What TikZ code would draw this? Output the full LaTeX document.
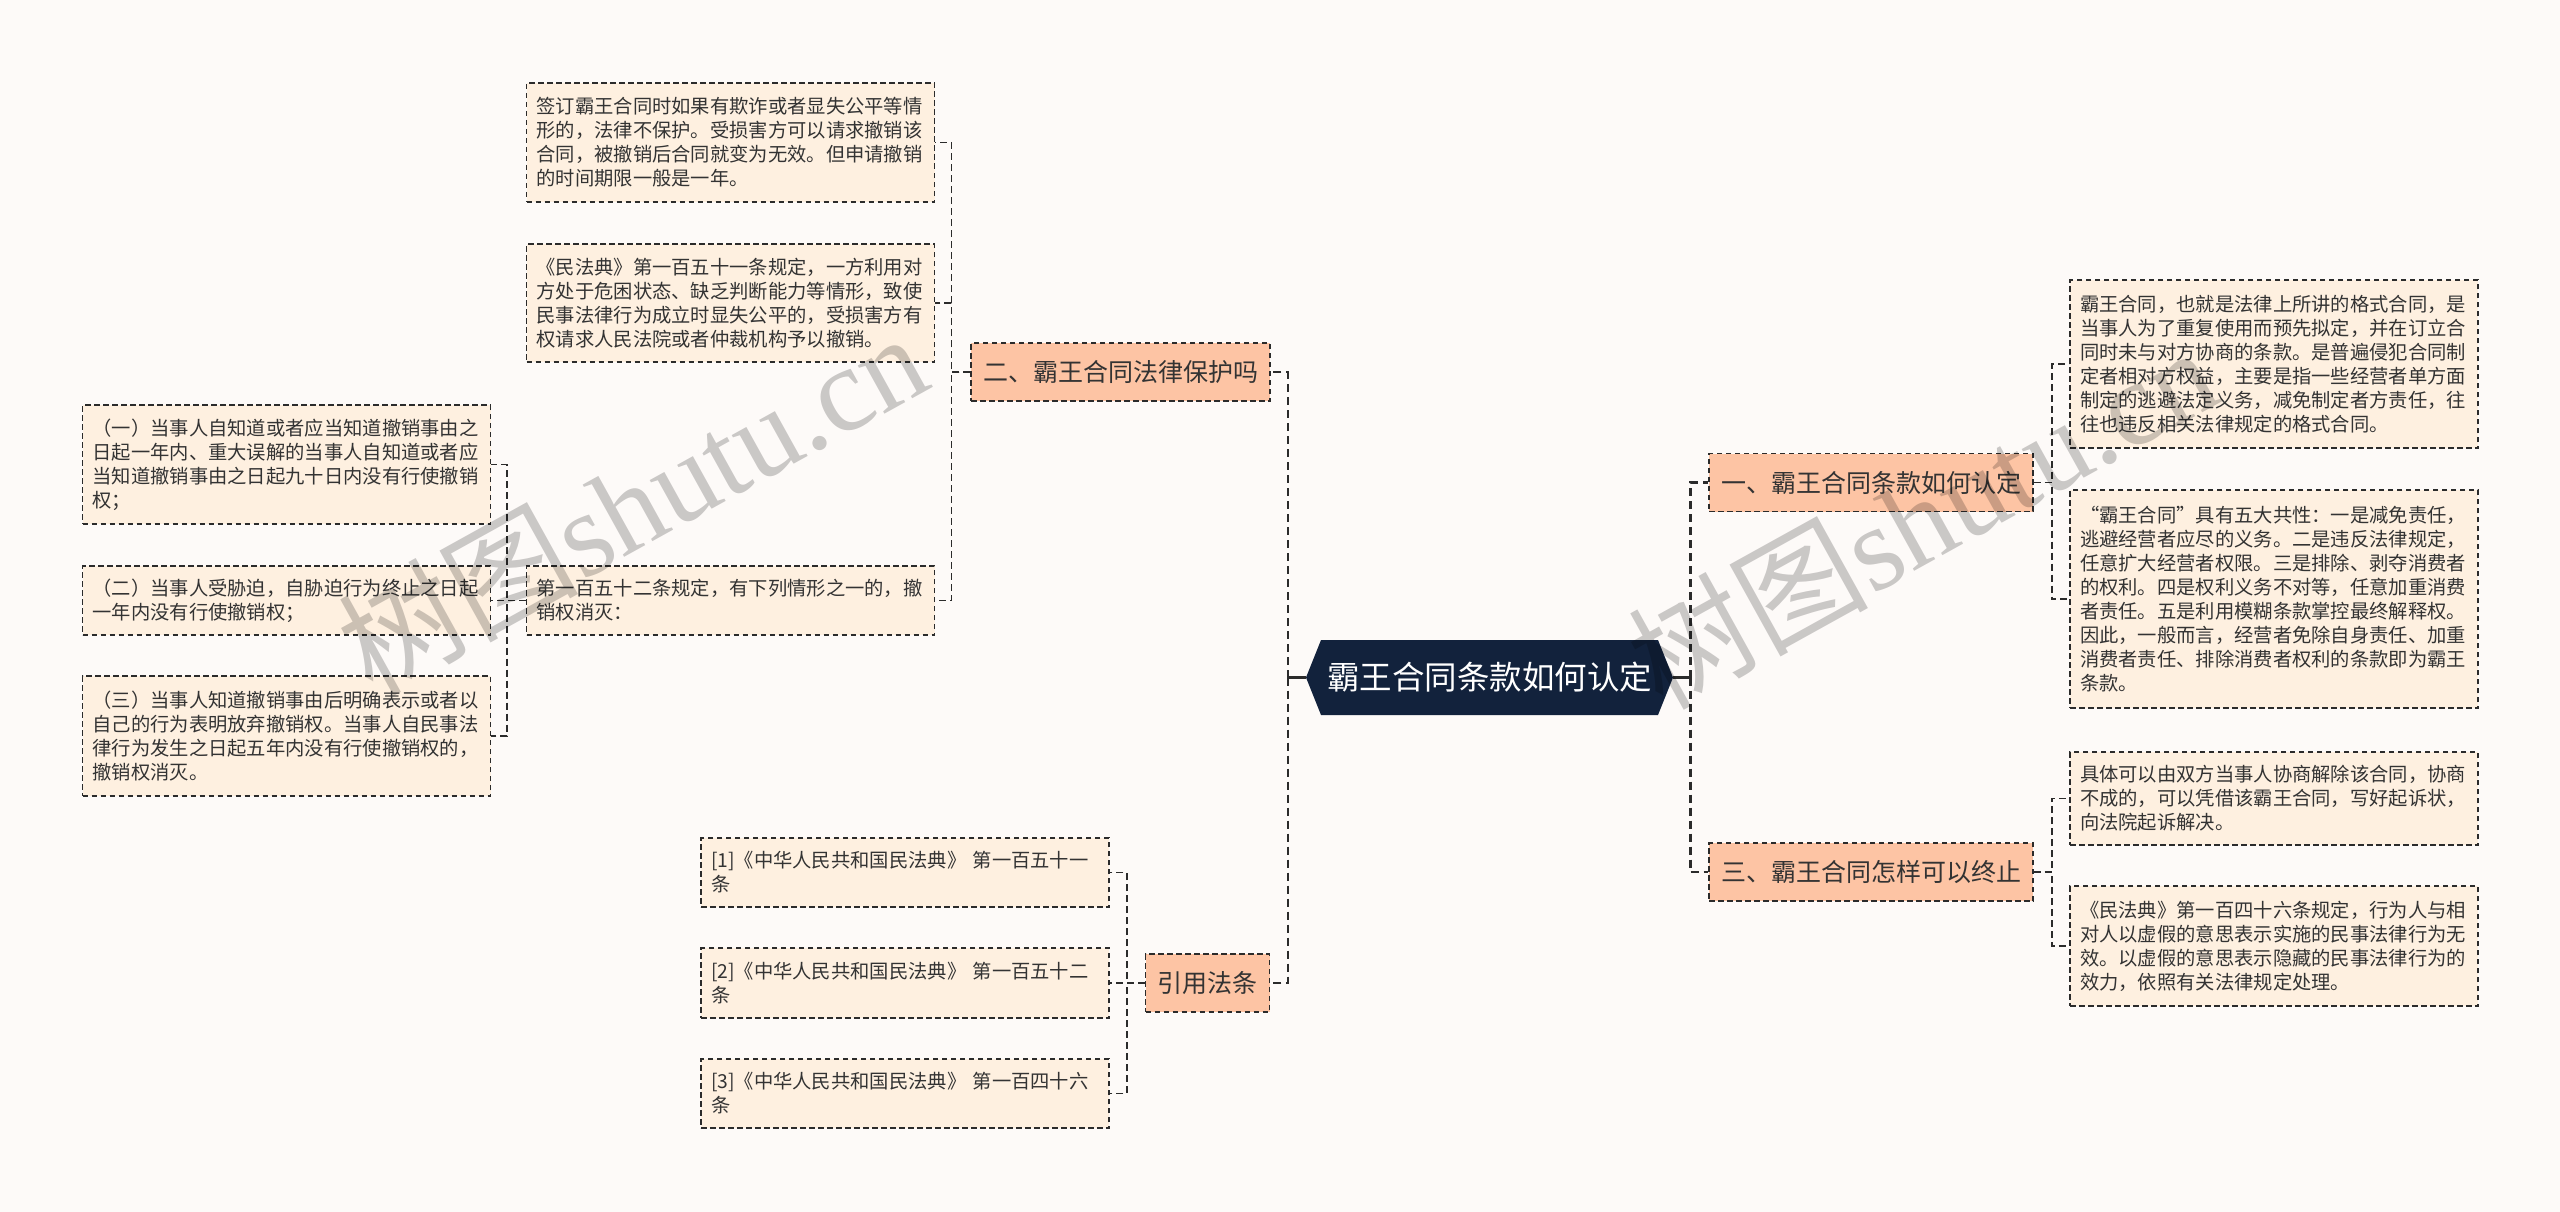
\documentclass[tikz,border=0pt]{standalone}
\usepackage{fontspec}
\setmainfont{Noto Sans CJK SC}
\newfontfamily\wmserif{Liberation Serif}
\usetikzlibrary{calc}
\definecolor{bg}{HTML}{FDFAF8}
\definecolor{navy}{HTML}{12223C}
\definecolor{peach}{HTML}{FDC4A4}
\definecolor{cream}{HTML}{FEF0E0}
\definecolor{ink}{HTML}{333333}
\definecolor{edge}{HTML}{2B2B2B}
\tikzset{
  leaf/.style={draw=edge, line width=1.5pt, dash pattern=on 5.5pt off 3.5pt, fill=cream, text=ink,
    font=\fontsize{19.3}{24}\selectfont, text width=388pt, align=left, inner xsep=10pt, inner ysep=0pt},
  branch/.style={draw=edge, line width=1.5pt, dash pattern=on 5.5pt off 3.5pt, fill=peach, text=ink,
    font=\fontsize{25}{30}\selectfont, inner xsep=12pt, inner ysep=0pt, minimum height=58pt},
  conn/.style={draw=edge, line width=1.5pt, dash pattern=on 7pt off 4pt},
  mainconn/.style={draw=edge, line width=2.6pt, dash pattern=on 8pt off 5pt},
  stub/.style={draw=edge, line width=2.6pt},
  wm/.style={text=black, text opacity=0.2, rotate=29, anchor=base west, inner sep=0pt,
    font=\fontsize{120}{120}\selectfont},
}
\begin{document}
\begin{tikzpicture}[x=1pt,y=-1pt]
\useasboundingbox (0,0) rectangle (2560,1212);
\fill[bg] (0,0) rectangle (2560,1212);

% central node
\fill[navy] (1306,677.5) -- (1321,640) -- (1658,640) -- (1673,677.5) -- (1658,715) -- (1321,715) -- cycle;
\node[text=white, font=\fontsize{32.5}{36}\selectfont, minimum width=367pt, minimum height=75pt, inner sep=0pt]
  (c) at (1489.5,677.5) {霸王合同条款如何认定};

% branches
\node[branch] (b1) at (1871,482.5) {一、霸王合同条款如何认定};
\node[branch] (b3) at (1871,872) {三、霸王合同怎样可以终止};
\node[branch] (b2) at (1120.5,372) {二、霸王合同法律保护吗};
\node[branch] (b4) at (1207.5,983) {引用法条};

% right leaves
\node[leaf, minimum height=168pt] (r1) at (2274,364) {霸王合同，也就是法律上所讲的格式合同，是\\当事人为了重复使用而预先拟定，并在订立合\\同时未与对方协商的条款。是普遍侵犯合同制\\定者相对方权益，主要是指一些经营者单方面\\制定的逃避法定义务，减免制定者方责任，往\\往也违反相关法律规定的格式合同。};
\node[leaf, minimum height=218pt] (r2) at (2274,599) {“霸王合同”具有五大共性：一是减免责任，\\逃避经营者应尽的义务。二是违反法律规定，\\任意扩大经营者权限。三是排除、剥夺消费者\\的权利。四是权利义务不对等，任意加重消费\\者责任。五是利用模糊条款掌控最终解释权。\\因此，一般而言，经营者免除自身责任、加重\\消费者责任、排除消费者权利的条款即为霸王\\条款。};
\node[leaf, minimum height=93pt] (r3) at (2274,798.5) {具体可以由双方当事人协商解除该合同，协商\\不成的，可以凭借该霸王合同，写好起诉状，\\向法院起诉解决。};
\node[leaf, minimum height=120pt] (r4) at (2274,946) {《民法典》第一百四十六条规定，行为人与相\\对人以虚假的意思表示实施的民事法律行为无\\效。以虚假的意思表示隐藏的民事法律行为的\\效力，依照有关法律规定处理。};

% left leaves of b2
\node[leaf, minimum height=119pt] (l1) at (730.5,142.5) {签订霸王合同时如果有欺诈或者显失公平等情\\形的，法律不保护。受损害方可以请求撤销该\\合同，被撤销后合同就变为无效。但申请撤销\\的时间期限一般是一年。};
\node[leaf, minimum height=118pt] (l2) at (730.5,303) {《民法典》第一百五十一条规定，一方利用对\\方处于危困状态、缺乏判断能力等情形，致使\\民事法律行为成立时显失公平的，受损害方有\\权请求人民法院或者仲裁机构予以撤销。};
\node[leaf, minimum height=69pt] (l3) at (730.5,600.5) {第一百五十二条规定，有下列情形之一的，撤\\销权消灭：};

% leaves of l3
\node[leaf, minimum height=119pt] (ll1) at (286.5,464.5) {（一）当事人自知道或者应当知道撤销事由之\\日起一年内、重大误解的当事人自知道或者应\\当知道撤销事由之日起九十日内没有行使撤销\\权；};
\node[leaf, minimum height=69pt] (ll2) at (286.5,600.5) {（二）当事人受胁迫，自胁迫行为终止之日起\\一年内没有行使撤销权；};
\node[leaf, minimum height=120pt] (ll3) at (286.5,736) {（三）当事人知道撤销事由后明确表示或者以\\自己的行为表明放弃撤销权。当事人自民事法\\律行为发生之日起五年内没有行使撤销权的，\\撤销权消灭。};

% citation leaves
\node[leaf, minimum height=69pt] (c1) at (905,872.5) {[1]《中华人民共和国民法典》 第一百五十一\\条};
\node[leaf, minimum height=70pt] (c2) at (905,983) {[2]《中华人民共和国民法典》 第一百五十二\\条};
\node[leaf, minimum height=69pt] (c3) at (905,1093.5) {[3]《中华人民共和国民法典》 第一百四十六\\条};

% central connectors
\draw[stub] (c.east) -- ++(17,0) coordinate (rb);
\draw[stub] (c.west) -- ++(-18,0) coordinate (lb);
\draw[mainconn] (rb) |- (b1.west);
\draw[mainconn] (rb) |- (b3.west);
\draw[mainconn] (lb) |- (b2.east);
\draw[mainconn] (lb) |- (b4.east);

% branch connectors
\draw[conn] (b1.east) -- ++(18,0) |- (r1.west);
\draw[conn] (b1.east) -- ++(18,0) |- (r2.west);
\draw[conn] (b3.east) -- ++(18,0) |- (r3.west);
\draw[conn] (b3.east) -- ++(18,0) |- (r4.west);
\draw[conn] (b2.west) -- ++(-19,0) |- (l1.east);
\draw[conn] (b2.west) -- ++(-19,0) |- (l2.east);
\draw[conn] (b2.west) -- ++(-19,0) |- (l3.east);
\draw[conn] (l3.west) -- ++(-19,0) |- (ll1.east);
\draw[conn] (l3.west) -- ++(-19,0) |- (ll2.east);
\draw[conn] (l3.west) -- ++(-19,0) |- (ll3.east);
\draw[conn] (b4.west) -- ++(-18,0) |- (c1.east);
\draw[conn] (b4.west) -- ++(-18,0) |- (c2.east);
\draw[conn] (b4.west) -- ++(-18,0) |- (c3.east);

% watermarks
\node[wm] (wm1) at (372,698) {树图{\wmserif shutu.cn}};
\node[wm] (wm2) at (1662,712) {树图{\wmserif shutu.cn}};
\end{tikzpicture}
\end{document}
